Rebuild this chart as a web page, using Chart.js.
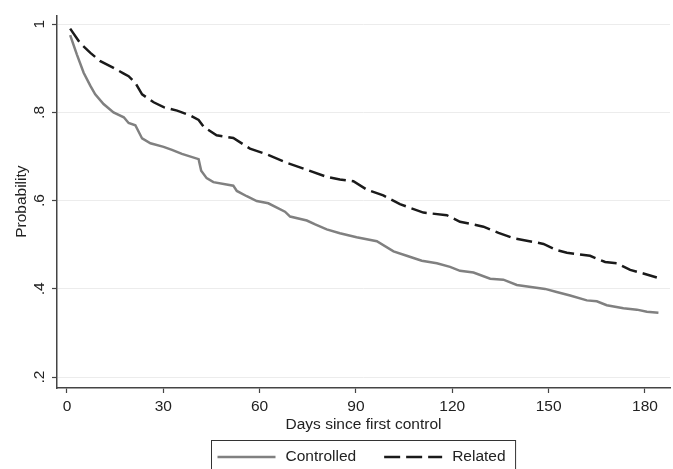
<!DOCTYPE html>
<html lang="en">
<head>
  <meta charset="UTF-8">
  <title>Probability by days since first control</title>
  <script src="https://cdn.jsdelivr.net/npm/chart.js"></script>
  <style>
    html, body { margin: 0; padding: 0; background: #fff; }
  </style>
</head>
<body>
  <canvas id="chart" width="673" height="469"></canvas>

  <script>
// Curves: day -> probability
const controlledDays = [1, 3.1, 5.2, 7.3, 8.8, 11.4, 14.5, 17.7, 19.2, 21.3, 23.4, 26, 30.1, 32.7, 35.8,
  41, 41.8, 43.5, 45.6, 51.8, 52.9, 56, 59.1, 62.7, 67.9, 69.5, 74.7, 77.3, 80.9, 85, 90.2, 96.5,
  101.7, 105.8, 110.5, 115.2, 119.3, 122.4, 126.6, 131.8, 135.9, 140.1, 148.9, 152.5, 156.7,
  161.9, 165, 168.1, 173.3, 177.5, 180.6, 184.2];
const controlledProb = [0.975, 0.931, 0.890, 0.860, 0.841, 0.819, 0.800, 0.789, 0.776, 0.771, 0.741, 0.730, 0.722, 0.715, 0.706,
  0.694, 0.668, 0.651, 0.642, 0.634, 0.622, 0.610, 0.599, 0.594, 0.575, 0.564, 0.555, 0.546, 0.535, 0.526, 0.517, 0.508,
  0.485, 0.475, 0.464, 0.458, 0.450, 0.441, 0.437, 0.423, 0.421, 0.409, 0.400, 0.393, 0.385,
  0.374, 0.372, 0.363, 0.356, 0.353, 0.348, 0.346];

const relatedDays = [1, 4.1, 7.3, 10.4, 14.5, 17.7, 19.2, 21.3, 23.4, 27, 30.1, 34.3, 38.4, 41, 42.6,
  46.6, 51.8, 57, 62.2, 68.4, 74.7, 80.9, 85, 89.2, 93.4, 98.5, 103.7, 111, 118.3, 122.4,
  126.6, 129.7, 134.4, 139, 148.4, 152.5, 155.7, 162.9, 167.6, 171.2, 175.4, 179.5, 183.7];
const relatedProb = [0.990, 0.957, 0.935, 0.916, 0.901, 0.888, 0.882, 0.867, 0.841, 0.823, 0.812, 0.804, 0.793, 0.783, 0.767,
  0.748, 0.742, 0.718, 0.705, 0.686, 0.670, 0.654, 0.648, 0.644, 0.625, 0.612, 0.592, 0.573, 0.567, 0.552,
  0.546, 0.541, 0.527, 0.515, 0.502, 0.488, 0.482, 0.475, 0.461, 0.458, 0.443, 0.435, 0.426];

const seriesLabels = ['Controlled', 'Related'];
const xTicks = [0, 30, 60, 90, 120, 150, 180];
const yTicks = [0.2, 0.4, 0.6, 0.8, 1];
const yTickLabels = ['.2', '.4', '.6', '.8', '1'];

const FONT_FAMILY = '"Liberation Sans", Arial, Helvetica, sans-serif';
const FONT_SIZE = 15.5;
const TEXT_COLOR = '#222';
const AXIS_COLOR = '#444';

const toPoints = (xs, ys) => xs.map((x, i) => ({ x: x, y: ys[i] }));

// Legend drawn as a framed box under the plot area
const boxLegend = {
  id: 'boxLegend',
  afterDraw(chart) {
    const ctx = chart.ctx;
    const area = chart.chartArea;
    const keyW = 58, textGap = 10, itemGap = 28, padL = 6, padR = 10;
    const sets = chart.data.datasets;

    ctx.save();
    ctx.font = FONT_SIZE + 'px ' + FONT_FAMILY;
    const widths = sets.map(ds => ctx.measureText(ds.label).width);
    let total = padL + padR + itemGap * (sets.length - 1);
    widths.forEach(w => { total += keyW + textGap + w; });

    const left = Math.round((area.left + area.right - total) / 2) + 0.5;
    const top = Math.round(area.bottom) + 52.5;
    ctx.strokeStyle = '#333';
    ctx.lineWidth = 1;
    ctx.strokeRect(left, top, total, 40);

    const cy = top + 16.5;
    let x = left + padL;
    sets.forEach((ds, i) => {
      ctx.beginPath();
      ctx.setLineDash(ds.borderDash || []);
      ctx.strokeStyle = ds.borderColor;
      ctx.lineWidth = ds.borderWidth;
      ctx.moveTo(x, cy);
      ctx.lineTo(x + keyW, cy);
      ctx.stroke();
      ctx.setLineDash([]);
      ctx.fillStyle = TEXT_COLOR;
      ctx.textAlign = 'left';
      ctx.textBaseline = 'middle';
      ctx.fillText(ds.label, x + keyW + textGap, cy);
      x += keyW + textGap + widths[i] + itemGap;
    });
    ctx.restore();
  }
};

const font = { family: FONT_FAMILY, size: FONT_SIZE };

new Chart(document.getElementById('chart'), {
  type: 'line',
  data: {
    datasets: [{
      label: seriesLabels[0],
      data: toPoints(controlledDays, controlledProb),
      borderColor: '#808080',
      borderWidth: 2.5,
      pointRadius: 0,
      tension: 0,
      fill: false
    }, {
      label: seriesLabels[1],
      data: toPoints(relatedDays, relatedProb),
      borderColor: '#1a1a1a',
      borderWidth: 2.5,
      borderDash: [16, 6],
      pointRadius: 0,
      tension: 0,
      fill: false
    }]
  },
  options: {
    responsive: false,
    animation: false,
    layout: { padding: { top: 10, right: 3, bottom: 31, left: 0 } },
    plugins: {
      legend: { display: false },
      tooltip: { enabled: false }
    },
    scales: {
      x: {
        type: 'linear',
        min: -3.1,
        max: 187.8,
        afterBuildTicks: s => { s.ticks = xTicks.map(v => ({ value: v })); },
        afterFit: s => { s.height = 50; },
        grid: { drawOnChartArea: false, drawTicks: true, tickLength: 5, tickColor: AXIS_COLOR, tickWidth: 1.2 },
        border: { color: AXIS_COLOR, width: 1.5 },
        ticks: { color: TEXT_COLOR, font: font, padding: 4, maxRotation: 0, autoSkip: false },
        title: { display: true, text: 'Days since first control', color: TEXT_COLOR, font: font, padding: { top: 0, bottom: 4 } }
      },
      y: {
        type: 'linear',
        min: 0.1754,
        max: 1.0201,
        afterBuildTicks: s => { s.ticks = yTicks.map(v => ({ value: v })); },
        afterFit: s => { s.width = 57; },
        grid: { color: '#ececec', lineWidth: 1, drawTicks: true, tickLength: 5, tickColor: AXIS_COLOR, tickWidth: 1.2 },
        border: { color: AXIS_COLOR, width: 1.5 },
        ticks: {
          color: TEXT_COLOR, font: font, padding: 6,
          minRotation: 90, maxRotation: 90, crossAlign: 'center', autoSkip: false,
          callback: (value, index) => yTickLabels[index]
        },
        title: { display: true, text: 'Probability', color: TEXT_COLOR, font: font, padding: { top: 12, bottom: 0 } }
      }
    }
  },
  plugins: [boxLegend]
});
  </script>
</body>
</html>
